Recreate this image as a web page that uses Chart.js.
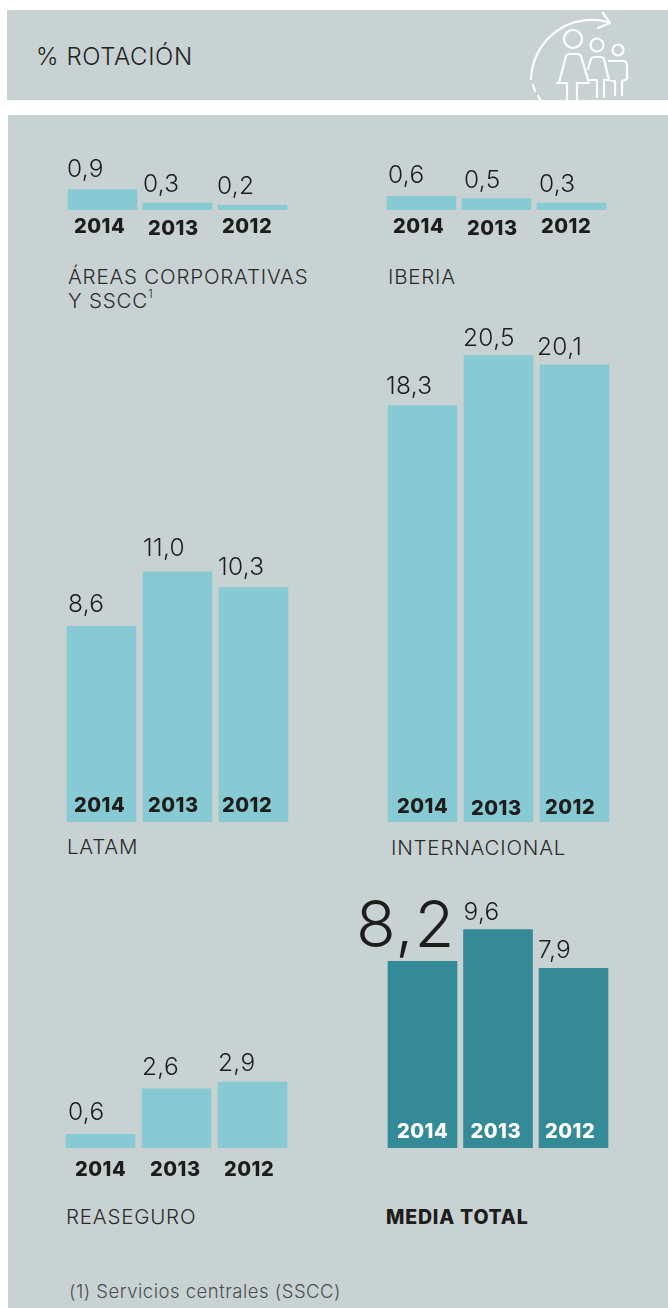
<!DOCTYPE html>
<html>
<head>
<meta charset="utf-8">
<title>% Rotación</title>
<script src="https://cdn.jsdelivr.net/npm/chart.js@4"></script>
<style>
  html, body { margin: 0; padding: 0; background: #fff; }
  body { position: relative; width: 668px; height: 1308px; overflow: hidden; font-family: Inter, sans-serif; color: #2b2b2a; }
  .box { position: absolute; background: #c9d2d3; }
  canvas { position: absolute; }
  .text { position: absolute; white-space: nowrap; font-weight: 300; line-height: 1; }
  .label { font-size: 20.5px; line-height: 20px; letter-spacing: 0.8px; }
  .text sup { font-size: 12px; line-height: 0; position: relative; top: -2px; vertical-align: super; letter-spacing: 0; }
</style>
</head>
<body>
<div class="box" style="left:7px;top:10px;width:661px;height:90px"></div>
<div class="box" style="left:8px;top:115px;width:660px;height:1193px"></div>

<div class="text" style="left:36px;top:45px;font-size:24px;letter-spacing:0.6px;color:#222">% ROTACIÓN</div>

<!-- header icon -->
<svg style="position:absolute;left:515px;top:10px" width="130" height="90" viewBox="515 10 130 90" fill="none" stroke="#fff" stroke-width="2.2" stroke-linecap="round" stroke-linejoin="round">
  <path d="M531 79 A61 61 0 0 1 608 22"/>
  <path d="M598 28 L610 23 L603 13"/>
  <path d="M533 85 L535 91 M538 96 L541 101"/>
  <circle cx="573" cy="39" r="9"/>
  <path d="M559 83 L566 56 Q567 54 570 54 L577 54 Q580 54 581 56 L589 83 L577 83 L577 101 M567 101 L567 83 L557 83"/>
  <circle cx="597" cy="45" r="6.5"/>
  <path d="M588 69 L591 59 Q592 57 594 57 L601 57 Q603 57 604 59 L609 80 L604 80 L604 97 M597 97 L597 80 L590 80"/>
  <circle cx="618" cy="50" r="5.5"/>
  <path d="M609 61 L623 61 Q627 61 627 65 L627 79 L622 81 L622 95 M615 95 L615 81 L611 81"/>
</svg>

<div class="text label" style="left:68px;top:265px;line-height:24px">ÁREAS CORPORATIVAS<br>Y SSCC<sup>1</sup></div>
<div class="text label" style="left:388px;top:265px;line-height:24px">IBERIA</div>
<div class="text label" style="left:67px;top:837px">LATAM</div>
<div class="text label" style="left:391px;top:838px">INTERNACIONAL</div>
<div class="text label" style="left:66px;top:1207px">REASEGURO</div>
<div class="text label" style="left:386px;top:1207px;font-size:19.5px;font-weight:800;letter-spacing:0.8px;color:#1d1d1b">MEDIA TOTAL</div>
<div class="text" style="left:69px;top:1281px;font-size:18.5px;line-height:20px;letter-spacing:0.5px;color:#4a4f50">(1) Servicios centrales (SSCC)</div>

<script>
const categories = ['2014', '2013', '2012']

const areasValues = [0.9, 0.3, 0.2]
const iberiaValues = [0.6, 0.5, 0.3]
const latamValues = [8.6, 11.0, 10.3]
const internacionalValues = [18.3, 20.5, 20.1]
const reaseguroValues = [0.6, 2.6, 2.9]
const mediaValues = [8.2, 9.6, 7.9]

const LIGHT = '#88cad3'
const DARK = '#348b97'
const INK = '#1d1d1b'

// every panel shares this y scale so the bars compare across panels
const PX_PER_UNIT = 22.75
const BAR_WIDTH = 69
const BAR_INSET = 44
const PAD_RIGHT = 20
const PAD_TOP = 20
const PAD_BOTTOM = 40

function formatValue(v) {
  return v.toFixed(1).replace('.', ',')
}

// draws the value above each bar and the year under it (or inside it)
const barLabels = {
  id: 'barLabels',
  afterDatasetsDraw(chart, args, opts) {
    const ctx = chart.ctx
    const bars = chart.getDatasetMeta(0).data
    const bottom = chart.chartArea.bottom
    ctx.save()
    ctx.textAlign = 'left'
    ctx.textBaseline = 'alphabetic'
    bars.forEach(function (bar, i) {
      const left = bar.x - BAR_WIDTH / 2
      const big = opts.bigFirst && i === 0
      ctx.fillStyle = INK
      ctx.letterSpacing = big ? '1px' : '0.3px'
      ctx.font = big ? '300 65px Inter' : '300 24.5px Inter'
      ctx.fillText(formatValue(chart.data.datasets[0].data[i]), left + opts.valueDx[i], bar.y - opts.valueLift[i])

      ctx.fillStyle = opts.yearColor
      ctx.letterSpacing = '0.5px'
      ctx.font = '800 20px Inter'
      ctx.fillText(chart.data.labels[i], left + opts.yearDx[i], bottom + opts.yearDrop[i])
    })
    ctx.restore()
  },
}

function drawPanel(cfg) {
  const plotHeight = cfg.yMax * PX_PER_UNIT
  // keeps the first bar on a whole pixel whatever the gap between bars is
  const padLeft = BAR_INSET - (cfg.step - BAR_WIDTH) / 2
  const canvas = document.createElement('canvas')
  const width = Math.ceil(padLeft + cfg.step * 3 + PAD_RIGHT)
  const height = plotHeight + PAD_TOP + PAD_BOTTOM
  canvas.width = width
  canvas.height = height
  canvas.style.width = width + 'px'
  canvas.style.height = height + 'px'
  canvas.style.left = cfg.firstBar - BAR_INSET + 'px'
  canvas.style.top = cfg.base - plotHeight - PAD_TOP + 'px'
  document.body.appendChild(canvas)

  new Chart(canvas.getContext('2d'), {
    type: 'bar',
    data: {
      labels: categories,
      datasets: [
        {
          data: cfg.values,
          backgroundColor: cfg.color,
          borderWidth: 0,
          barThickness: BAR_WIDTH,
        },
      ],
    },
    options: {
      responsive: false,
      animation: false,
      layout: {
        padding: {
          left: padLeft,
          right: width - padLeft - cfg.step * 3,
          top: PAD_TOP,
          bottom: PAD_BOTTOM,
        },
      },
      scales: {
        x: { display: false },
        y: { display: false, min: 0, max: cfg.yMax },
      },
      plugins: {
        legend: { display: false },
        tooltip: { enabled: false },
        barLabels: {
          valueDx: cfg.valueDx,
          valueLift: cfg.valueLift,
          yearDx: cfg.yearDx,
          yearDrop: cfg.yearDrop,
          yearColor: cfg.yearColor || INK,
          bigFirst: cfg.bigFirst || false,
        },
      },
    },
    plugins: [barLabels],
  })
}

drawPanel({
  values: areasValues, color: LIGHT, yMax: 4, base: 210, firstBar: 68, step: 75,
  valueDx: [-1, 0, -1], valueLift: [12.5, 11, 11.5],
  yearDx: [6, 5, 4], yearDrop: [23, 24.5, 23],
})
drawPanel({
  values: iberiaValues, color: LIGHT, yMax: 4, base: 210, firstBar: 387, step: 75,
  valueDx: [1, 2, 2], valueLift: [13, 10.5, 11],
  yearDx: [6, 5, 4], yearDrop: [23, 24.5, 23],
})
drawPanel({
  values: latamValues, color: LIGHT, yMax: 12, base: 822, firstBar: 67, step: 76,
  valueDx: [1, 0, -1], valueLift: [14, 16, 13],
  yearDx: [7, 5, 3], yearDrop: [-10, -10, -10],
})
drawPanel({
  values: internacionalValues, color: LIGHT, yMax: 24, base: 822, firstBar: 388, step: 76,
  valueDx: [-2, -1, -3], valueLift: [12, 10, 10],
  yearDx: [9, 7, 5], yearDrop: [-9, -7, -8],
})
drawPanel({
  values: reaseguroValues, color: LIGHT, yMax: 4, base: 1148, firstBar: 66, step: 76,
  valueDx: [2, 0, 0], valueLift: [14, 14, 11],
  yearDx: [9, 8, 6], yearDrop: [28, 28, 28],
})
drawPanel({
  values: mediaValues, color: DARK, yMax: 12, base: 1148, firstBar: 388, step: 75.5,
  valueDx: [-32, 0, -1], valueLift: [14, 10, 10],
  yearDx: [9, 7, 6], yearDrop: [-10, -10, -10],
  yearColor: '#ffffff', bigFirst: true,
})
</script>
</body>
</html>
